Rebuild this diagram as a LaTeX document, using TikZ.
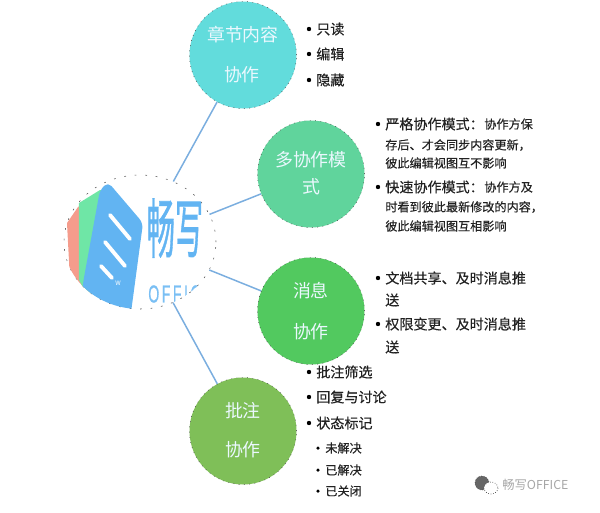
\documentclass[tikz,border=0pt]{standalone}
\usepackage{fontspec}
\setmainfont{Noto Sans CJK SC}
\newfontfamily\itemfont{Noto Sans CJK SC}[FakeBold=0.35]
\newfontfamily\logofont{Noto Sans CJK SC}[FakeBold=1.2]
\newfontfamily\latinfont{Liberation Sans}[LetterSpace=18,FakeBold=0.8]
\usetikzlibrary{shapes.geometric}

\definecolor{logoblue}{HTML}{62B4F2}
\definecolor{logogreen}{HTML}{6FE6A6}
\definecolor{logored}{HTML}{F59C8C}
\definecolor{linkblue}{HTML}{7BAEDF}
\definecolor{bodytext}{HTML}{222222}
\definecolor{chaptercolor}{HTML}{62DCDC}
\definecolor{multicolor}{HTML}{60D49C}
\definecolor{messagecolor}{HTML}{52C95F}
\definecolor{commentcolor}{HTML}{7FBF58}

\tikzset{
    topic/.style={ellipse, inner sep=0pt, minimum width=107*0.02cm, minimum height=107*0.02cm, draw=black!70, line width=0.3pt, dash pattern=on 0.5pt off 2.5pt},
    topictext/.style={text=white!92!cyan, font=\fontsize{10.2}{12}\selectfont, inner sep=0pt},
    bigitem/.style={anchor=west, inner sep=0pt, text=bodytext, font=\fontsize{8}{10}\itemfont},
    smallitem/.style={anchor=west, inner sep=0pt, text=bodytext, font=\fontsize{6.9}{9}\itemfont},
    dot/.style={circle, fill=black, inner sep=0pt, minimum size=2.5pt},
    link/.style={draw=linkblue, line width=0.85pt}
}

\begin{document}
\begin{tikzpicture}[x=0.02cm, y=-0.02cm]
    \useasboundingbox (0,0) rectangle (600,512);

    % Draw logo circle
    \node[ellipse, inner sep=0pt, minimum width=152*0.02cm, minimum height=134*0.02cm, draw=black!70, line width=0.3pt, dash pattern=on 1pt off 5pt] (logo) at (140,242) {};
    \begin{scope}
        \clip (140,242) ellipse [x radius=76, y radius=67];
        \fill[logored] (67,223) -- (78,207) -- (90,200) -- (90,300) -- (70,280) -- cycle;
        \fill[logogreen] (79,203) -- (100,190) -- (112,190) -- (90,300) -- (79,280) -- cycle;
        \fill[logoblue, rounded corners=3pt] (108,182) -- (143,223) -- (130,320) -- (80,320) -- (83,283) -- (100,190) -- cycle;
        \draw[white, line width=2.2pt, line cap=round] (110,215) -- (130,239);
        \draw[white, line width=2.2pt, line cap=round] (105,242) -- (125,266);
        \draw[white, line width=2.2pt, line cap=round] (101,266) -- (112,278);
        \node[text=white, inner sep=0pt, font=\fontsize{3.5}{4}\selectfont] (logow) at (118,283) {W};
        \node[text=logoblue, inner sep=0pt, transform shape, yscale=2.3, font=\fontsize{16}{18}\logofont] (logoname) at (175,228) {畅写};
        \node[text=logoblue!85, inner sep=0pt, anchor=west, transform shape, yscale=1.75, font=\fontsize{8}{10}\latinfont] (logooffice) at (148,294) {OFFICE};
    \end{scope}

    % Draw topic circles
    \node[topic, fill=chaptercolor] (chapter) at (243,55) {};
    \node[topic, fill=multicolor] (multi) at (311,174) {};
    \node[topic, fill=messagecolor] (message) at (311,311) {};
    \node[topic, fill=commentcolor] (comment) at (243,431) {};

    % Draw links
    \foreach \topic in {chapter,multi,message,comment}
        \draw[link] (logo) -- (\topic);

    % Draw topic labels
    \node[topictext] (chapterone) at (243,35) {章节内容};
    \node[topictext] (chaptertwo) at (242,75) {协作};
    \node[topictext] (multione) at (311,160) {多协作模};
    \node[topictext] (multitwo) at (311,187) {式};
    \node[topictext] (messageone) at (311,291) {消息};
    \node[topictext] (messagetwo) at (311,332) {协作};
    \node[topictext] (commentone) at (243,411) {批注};
    \node[topictext] (commenttwo) at (243,450) {协作};

    % Draw items of the first circle
    \foreach \y/\txt in {29/只读,54/编辑,80/隐藏} {
        \node[dot] (dota\y) at (309,\y) {};
        \node[bigitem] (itema\y) at (316,\y) {\txt};
    }

    % Draw items of the second circle
    \foreach \y/\txt/\rest in {124/严格协作模式：/协作方保,187/快速协作模式：/协作方及} {
        \node[dot] (dotb\y) at (378,\y) {};
        \node[bigitem] (itemb\y) at (385,\y) {\txt};
        \node[smallitem] (restb\y) at (484,\y) {\rest};
    }
    \foreach \y/\txt in {145/存后、才会同步内容更新，,163/彼此编辑视图互不影响,207/时看到彼此最新修改的内容，,226/彼此编辑视图互相影响}
        \node[smallitem] (lineb\y) at (385,\y) {\txt};

    % Draw items of the third circle
    \foreach \y/\txt in {278/文档共享、及时消息推,324/权限变更、及时消息推} {
        \node[dot] (dotc\y) at (378,\y) {};
        \node[bigitem] (itemc\y) at (385,\y) {\txt};
    }
    \foreach \y in {300,347}
        \node[bigitem] (linec\y) at (385,\y) {送};

    % Draw items of the fourth circle
    \foreach \y/\txt in {372/批注筛选,397/回复与讨论,423/状态标记} {
        \node[dot] (dotd\y) at (309,\y) {};
        \node[bigitem] (itemd\y) at (316,\y) {\txt};
    }
    \foreach \y/\txt in {448/未解决,470/已解决,491/已关闭} {
        \node[dot, minimum size=2pt] (dote\y) at (318,\y) {};
        \node[smallitem] (iteme\y) at (325,\y) {\txt};
    }

    % Draw watermark
    \draw[black!70, densely dotted, fill=black!60] (482,483) ellipse [x radius=7, y radius=7];
    \draw[black!70, densely dotted, fill=white] (491,488) ellipse [x radius=7, y radius=6];
    \node[anchor=west, inner sep=0pt, text=black!35, font=\fontsize{7}{9}\selectfont] (mark) at (502,485) {畅写OFFICE};
\end{tikzpicture}
\end{document}
